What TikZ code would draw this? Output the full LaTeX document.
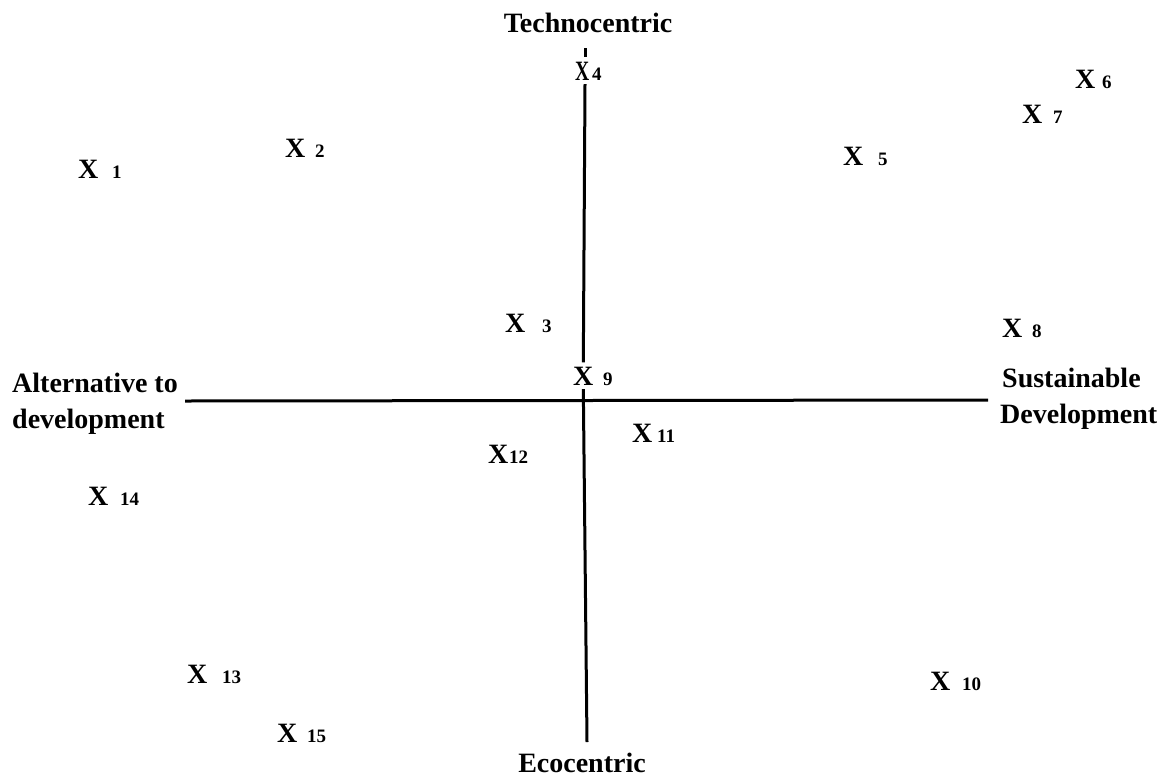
\documentclass[tikz,border=0pt]{standalone}
\usepackage{fontspec}
\setmainfont{Liberation Serif}
\begin{document}
\begin{tikzpicture}[x=1pt,y=-1pt,
  axis/.style={line width=3pt,black},
  lbl/.style={anchor=base west,inner sep=0pt,font=\fontsize{28}{32}\selectfont\bfseries},
  lblc/.style={anchor=base,inner sep=0pt,font=\fontsize{28}{32}\selectfont\bfseries},
  xmark/.style={anchor=base west,inner xsep=0pt,inner ysep=4pt,font=\fontsize{28}{32}\selectfont\bfseries},
  num/.style={anchor=base west,inner sep=0pt,font=\fontsize{19}{21}\selectfont\bfseries}]
\useasboundingbox (0,0) rectangle (1170,777);
% labels
\node[lblc] (techno) at (588,32) {Technocentric};
\node[lblc] (eco) at (582,772) {Ecocentric};
\node[lbl] (alt1) at (12,392) {Alternative to};
\node[lbl] (alt2) at (12,428) {development};
\node[lbl] (sus1) at (1002,387) {Sustainable};
\node[lbl] (sus2) at (1000,423) {Development};
% points
\node[xmark] (p1) at (78,178) {X};   \node[num] (n1) at (112,178) {1};
\node[xmark] (p2) at (285,157) {X};  \node[num] (n2) at (315,157) {2};
\node[xmark] (p3) at (505,332) {X};  \node[num] (n3) at (542,332) {3};
\node[xmark] (p4) at (575,80) {\scalebox{0.7}[1]{X}};   \node[num] (n4) at (592,80) {4};
\node[xmark] (p5) at (843,165) {X};  \node[num] (n5) at (878,165) {5};
\node[xmark] (p6) at (1075,88) {X};  \node[num] (n6) at (1102,88) {6};
\node[xmark] (p7) at (1022,123) {X}; \node[num] (n7) at (1053,123) {7};
\node[xmark] (p8) at (1002,337) {X}; \node[num] (n8) at (1032,337) {8};
\node[xmark] (p9) at (573,385) {X};  \node[num] (n9) at (603,385) {9};
\node[xmark] (p10) at (930,690) {X}; \node[num] (n10) at (962,690) {10};
\node[xmark] (p11) at (632,442) {X}; \node[num] (n11) at (657,442) {11};
\node[xmark] (p12) at (488,463) {X}; \node[num] (n12) at (509,463) {12};
\node[xmark] (p13) at (187,683) {X}; \node[num] (n13) at (222,683) {13};
\node[xmark] (p14) at (88,505) {X};  \node[num] (n14) at (120,505) {14};
\node[xmark] (p15) at (277,742) {X}; \node[num] (n15) at (307,742) {15};
% axes
\coordinate (vtop) at (585,48);
\coordinate (vbot) at (587,742);
\coordinate (hleft) at (185,401);
\coordinate (hright) at (988,400);
\draw[axis] (vtop) -- (vtop |- p4.north);
\draw[axis] (vtop |- p4.south) -- (p9.north);
\draw[axis] (p9.south) -- (vbot);
\draw[axis] (hleft) -- (hright);
\end{tikzpicture}
\end{document}
